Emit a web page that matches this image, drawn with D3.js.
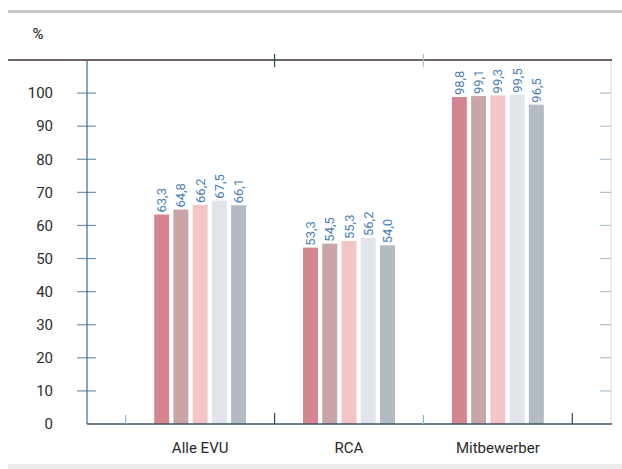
<!DOCTYPE html>
<html><head><meta charset="utf-8">
<script src="https://cdn.jsdelivr.net/npm/d3@7"></script>
<style>
html,body{margin:0;padding:0;background:#fff;}
svg{display:block;}
text{font-family:Roboto,"DejaVu Sans",sans-serif;}
</style></head>
<body><svg id="c" width="622" height="469"></svg>
<script>
const categories = ["Alle EVU", "RCA", "Mitbewerber"];
const seriesNames = ["s1", "s2", "s3", "s4", "s5"];
const s1 = [63.3, 53.3, 98.8];
const s2 = [64.8, 54.5, 99.1];
const s3 = [66.2, 55.3, 99.3];
const s4 = [67.5, 56.2, 99.5];
const s5 = [66.1, 54.0, 96.5];
const valueLabels = [["63,3","64,8","66,2","67,5","66,1"],["53,3","54,5","55,3","56,2","54,0"],["98,8","99,1","99,3","99,5","96,5"]];
const yTicks = [0,10,20,30,40,50,60,70,80,90,100];
const colors = ["#d5858f", "#c9a5a8", "#f5c4c7", "#dfe5eb", "#b4bac2"];

const series = [s1, s2, s3, s4, s5];
const svg = d3.select("#c");

// decorative frame lines
svg.append("line").attr("x1",8).attr("x2",622).attr("y1",11.5).attr("y2",11.5)
  .attr("stroke","#c9c9cc").attr("stroke-width",3);
svg.append("rect").attr("x",8).attr("y",464).attr("width",614).attr("height",5).attr("fill","#ececec");

const leftX = 87, rightX = 611, baseY = 424, topY = 60;
const y = d3.scaleLinear().domain([0,110]).range([baseY, topY]);
const x0 = d3.scaleBand().domain(categories).range([leftX, rightX]).paddingInner(0).paddingOuter(0.26);
const x1 = d3.scaleBand().domain(seriesNames).range([0, x0.bandwidth()]).paddingInner(0.22).paddingOuter(1.48);

// right axis (light)
svg.append("line").attr("x1",rightX).attr("x2",rightX).attr("y1",topY).attr("y2",baseY)
  .attr("stroke","#d3dde5").attr("stroke-width",1);
svg.append("g").selectAll("line").data(yTicks.filter(d=>d>0)).join("line")
  .attr("x1",600).attr("x2",rightX).attr("y1",d=>y(d)).attr("y2",d=>y(d))
  .attr("stroke","#a9c2d4").attr("stroke-width",1.2);

// bars
const g = svg.append("g");
categories.forEach((c, ci) => {
  seriesNames.forEach((s, si) => {
    const v = series[si][ci];
    const bx = x0(c) + x1(s);
    g.append("rect").attr("x", bx).attr("y", y(v)).attr("width", x1.bandwidth())
      .attr("height", baseY - y(v)).attr("fill", colors[si]);
    g.append("text")
      .attr("transform", `translate(${bx + x1.bandwidth()/2 + 4.5},${y(v) - 2}) rotate(-90)`)
      .attr("font-size", 13).attr("fill", "#4a80b3").attr("text-anchor","start")
      .text(valueLabels[ci][si]);
  });
});

// left axis
const yAxis = d3.axisLeft(y).tickValues(yTicks).tickSize(0).tickPadding(0).tickFormat(d3.format("d"));
const ya = svg.append("g").attr("transform",`translate(${leftX},0)`).call(yAxis);
ya.select(".domain").remove();
ya.selectAll("text").attr("x",-34).attr("font-size",15).attr("fill","#2c2c2c").attr("font-family","Roboto");
svg.append("g").selectAll("line").data(yTicks.filter(d=>d>0)).join("line")
  .attr("x1",77).attr("x2",96).attr("y1",d=>y(d)).attr("y2",d=>y(d))
  .attr("stroke","#6f93ad").attr("stroke-width",1.2);
svg.append("line").attr("x1",leftX).attr("x2",leftX).attr("y1",topY).attr("y2",baseY)
  .attr("stroke","#3f6a86").attr("stroke-width",1.2);

// top line
svg.append("line").attr("x1",8).attr("x2",612).attr("y1",topY).attr("y2",topY)
  .attr("stroke","#6e6461").attr("stroke-width",2);

// bottom axis
const bounds = categories.map(c=>x0(c)).concat([x0(categories[categories.length-1]) + x0.bandwidth()]);
svg.append("line").attr("x1",leftX).attr("x2",rightX+1).attr("y1",baseY).attr("y2",baseY)
  .attr("stroke","#3e5566").attr("stroke-width",1.5);
svg.append("g").selectAll("line").data(bounds).join("line")
  .attr("x1",d=>d).attr("x2",d=>d).attr("y1",baseY).attr("y2",(d,i)=> i%2 ? baseY-11 : baseY-9)
  .attr("stroke",(d,i)=> i%2 ? "#2f4757" : "#8fb2c9").attr("stroke-width",1.2);
// top ticks
svg.append("g").selectAll("line").data(bounds.slice(1,3)).join("line")
  .attr("x1",d=>d).attr("x2",d=>d).attr("y1",topY-6).attr("y2",topY+7)
  .attr("stroke",(d,i)=> i===0 ? "#2f4757" : "#a9c3d6").attr("stroke-width",1.2);

const xAxis = d3.axisBottom(x0).tickSize(0).tickPadding(0);
const xa = svg.append("g").attr("transform",`translate(0,${baseY})`).call(xAxis);
xa.select(".domain").remove();
xa.selectAll("text").attr("y",18).attr("font-size",15).attr("fill","#2a2a2a").attr("font-family","Roboto");

// unit
svg.append("text").attr("x",38).attr("y",39).attr("text-anchor","middle")
  .attr("font-size",15).attr("font-weight",500).attr("fill","#333").text("%");
</script></body></html>
